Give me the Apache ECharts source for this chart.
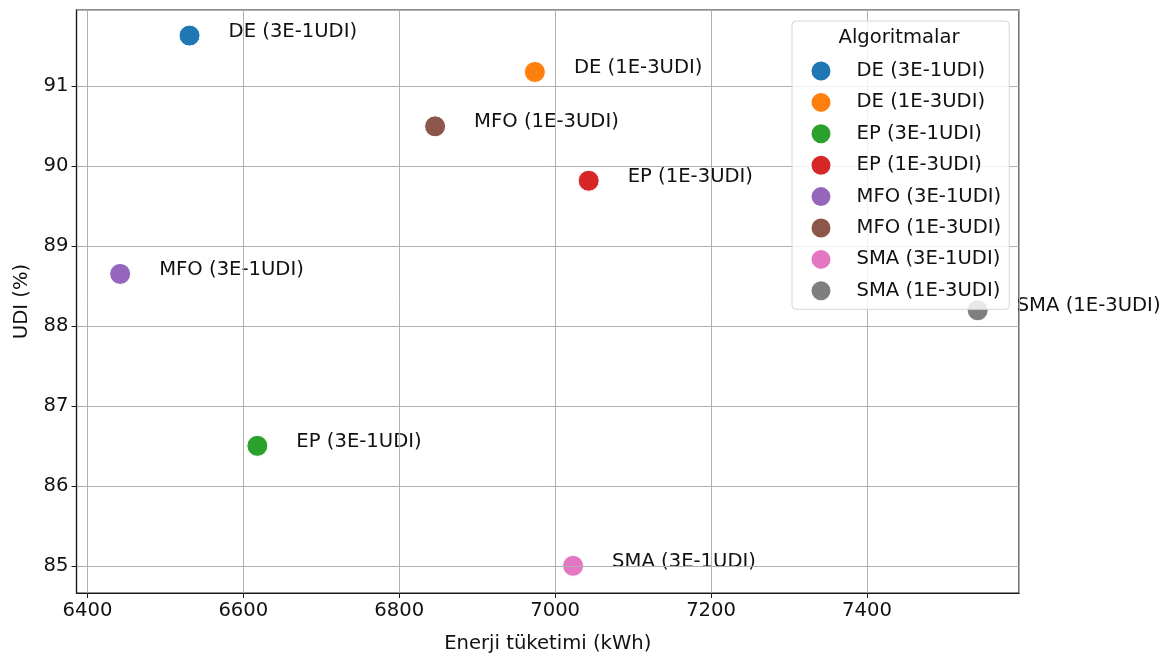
<!DOCTYPE html>
<html>
<head>
<meta charset="utf-8">
<script src="https://cdn.jsdelivr.net/npm/echarts@6/dist/echarts.min.js"></script>
<style>
  html, body { margin: 0; padding: 0; background: #fff; }
  #chart { width: 1168px; height: 657px; }
</style>
</head>
<body>
<div id="chart"></div>
<script>
// Algorithm runs: energy use (kWh) vs. UDI (%)
const algorithms = [
  'DE (3E-1UDI)', 'DE (1E-3UDI)', 'EP (3E-1UDI)', 'EP (1E-3UDI)',
  'MFO (3E-1UDI)', 'MFO (1E-3UDI)', 'SMA (3E-1UDI)', 'SMA (1E-3UDI)'
];
const energy = [6531, 6974, 6618, 7043, 6442, 6846, 7023, 7542];
const udi = [91.63, 91.175, 86.5, 89.815, 88.65, 90.495, 85.0, 88.195];
const colors = ['#1f77b4', '#ff7f0e', '#2ca02c', '#d62728', '#9467bd', '#8c564b', '#e377c2', '#7f7f7f'];

const FONT = 'DejaVu Sans';
const FS = 19.6;

const chart = echarts.init(document.getElementById('chart'), null, { renderer: 'canvas' });

const series = algorithms.map((name, i) => ({
  name: name,
  type: 'scatter',
  z: 2,
  symbol: 'circle',
  symbolSize: 21,
  itemStyle: { color: colors[i], borderColor: '#ffffff', borderWidth: 1, opacity: 1 },
  label: {
    show: true,
    position: 'right',
    distance: 28,
    offset: [0, -4],
    formatter: name,
    color: '#111',
    fontFamily: FONT,
    fontSize: FS
  },
  emphasis: { disabled: true },
  data: [[energy[i], udi[i]]]
}));

const plainNumber = v => String(v);

const option = {
  animation: false,
  textStyle: { fontFamily: FONT },
  grid: {
    left: 76.5, right: 149, top: 10, bottom: 64,
    outerBoundsMode: 'none',
    containLabel: false,
    show: true, borderColor: '#1a1a1a', borderWidth: 1.2, backgroundColor: 'transparent'
  },
  xAxis: {
    type: 'value',
    z: 3,
    min: 6386, max: 7595,
    minInterval: 200, maxInterval: 200,
    name: 'Enerji tüketimi (kWh)',
    nameLocation: 'middle',
    nameGap: 41,
    nameTextStyle: { fontFamily: FONT, fontSize: FS, color: '#111' },
    axisLine: { show: true, lineStyle: { color: '#1a1a1a', width: 1.2 } },
    axisTick: { show: true, length: 5, lineStyle: { color: '#1a1a1a', width: 1 } },
    axisLabel: { showMinLabel: false, showMaxLabel: false, margin: 8, fontFamily: FONT, fontSize: FS, color: '#111', formatter: plainNumber },
    splitLine: { show: true, lineStyle: { color: '#b0b0b0', width: 1 } }
  },
  yAxis: {
    type: 'value',
    z: 3,
    min: 84.66, max: 91.95,
    minInterval: 1, maxInterval: 1,
    name: 'UDI (%)',
    nameLocation: 'middle',
    nameGap: 45,
    nameTextStyle: { fontFamily: FONT, fontSize: FS, color: '#111' },
    axisLine: { show: true, lineStyle: { color: '#1a1a1a', width: 1.2 } },
    axisTick: { show: true, length: 5, lineStyle: { color: '#1a1a1a', width: 1 } },
    axisLabel: { showMinLabel: false, showMaxLabel: false, margin: 8, fontFamily: FONT, fontSize: FS, color: '#111', formatter: plainNumber },
    splitLine: { show: true, lineStyle: { color: '#b0b0b0', width: 1 } }
  },
  legend: {
    orient: 'vertical',
    left: 792,
    top: 21,
    z: 10,
    padding: [38.5, 8, 7, 17.5],
    itemWidth: 21,
    itemHeight: 21,
    itemGap: 8.4,
    icon: 'circle',
    backgroundColor: 'rgba(255,255,255,0.82)',
    borderColor: '#d6d6d6',
    borderWidth: 1,
    borderRadius: 4,
    selectedMode: false,
    textStyle: { fontFamily: FONT, fontSize: FS, color: '#111', padding: [0, 0, 0, 20] },
    data: algorithms
  },
  graphic: [{
    type: 'text',
    z: 100,
    x: 899,
    y: 38,
    style: {
      text: 'Algoritmalar',
      fontFamily: FONT,
      fontSize: FS,
      fill: '#111',
      align: 'center',
      verticalAlign: 'middle'
    }
  }],
  series: series
};

chart.setOption(option);
</script>
</body>
</html>
